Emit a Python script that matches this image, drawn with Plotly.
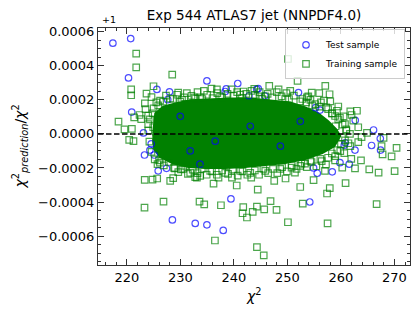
import plotly.graph_objects as go

# ---- data (y values are ratio - 1, in units of 1e-4) ----
test_chi2 = [217.38, 220.71, 220.30, 225.61, 227.96, 227.63, 220.90, 223.10, 224.54, 223.29,
             224.30, 225.85, 227.40, 228.50, 232.77, 234.95, 238.00, 239.44, 233.65, 254.17,
             254.88, 255.57, 258.37, 262.62, 265.72, 267.40, 261.55, 259.81, 260.62, 262.67,
             266.09, 267.35, 260.80, 234.95, 240.71, 238.37, 238.56, 242.81, 244.26, 244.54,
             245.76, 252.06, 255.25, 256.08, 225.10, 231.83, 236.50, 243.05, 248.67, 252.41,
             229.96]
test_dev_e4 = [5.33, 5.60, 3.29, 2.61, 2.47, 2.01, 1.28, 0.06, -0.58, -1.24,
               -0.95, -2.17, -2.02, -5.05, -5.26, -5.34, -5.67, -3.82, -1.78, -4.00,
               -2.00, -2.31, -2.23, -0.95, -0.68, -0.95, -1.78, -1.69, -0.66, 0.80,
               0.23, -0.27, -0.52, 3.11, 2.96, 2.49, 2.64, 2.24, 2.61, 2.66,
               2.24, 2.43, 1.54, 1.40, -1.24, -1.00, -0.43, 0.45, -0.72, 0.74,
               1.03]

train_chi2 = [221.74, 221.74, 228.47, 220.80, 220.80, 224.97, 223.66, 224.60, 229.59, 223.36,
              223.48, 221.36, 222.36, 222.67, 223.98, 218.43, 219.55, 220.93, 220.43, 221.23,
              223.98, 224.92, 223.33, 224.79, 225.66, 228.09, 228.65, 226.84, 223.29, 225.72,
              226.17, 228.97, 226.60, 227.85, 233.57, 234.45, 232.77, 233.70, 230.09, 233.08,
              236.19, 237.12, 239.63, 240.52, 243.23, 244.45, 237.57, 241.74, 241.61, 242.43,
              243.51, 244.30, 245.66, 246.84, 247.96, 250.09, 236.45, 244.30, 245.57, 252.39,
              252.86, 254.88, 257.40, 257.91, 257.50, 260.86, 266.66, 270.02, 267.03, 265.29,
              247.53, 249.64, 251.40, 250.77, 253.27, 257.01, 270.39, 269.46, 267.78, 267.59,
              262.62, 260.24, 263.74, 261.93, 250.09, 251.89, 257.07, 250.52, 254.54, 253.64,
              258.00, 256.26, 248.34, 246.60, 244.79, 243.80, 241.80, 236.82, 259.25, 261.74,
              262.99, 260.49, 264.86, 267.96, 261.98, 262.30, 260.75, 263.23, 261.68, 263.85,
              263.23, 260.75, 230.71, 232.07, 234.39, 235.81, 233.65, 239.55, 243.29, 253.89,
              255.94, 257.87, 226.79, 228.09, 225.85, 259.50, 259.87, 260.99, 258.94, 260.62,
              261.74, 258.37, 257.25, 259.50, 252.41, 254.28, 256.15, 248.65, 245.85, 243.05,
              241.18, 238.37, 235.57, 231.83, 230.90, 232.77, 237.44, 241.18, 245.85, 249.59,
              252.39, 254.62, 229.96,
              # upper edge of the dense cloud
              226.2, 227.3, 228.6, 229.4, 230.3, 231.2, 232.6, 233.2, 234.1, 235.0,
              236.0, 236.9, 237.8, 238.8, 239.9, 240.6, 241.5, 242.3, 243.9, 244.8,
              245.3, 246.3, 247.2, 248.0, 248.9, 249.8, 250.3, 251.2, 252.8, 253.5,
              254.3, 255.2, 256.0, 256.8, 257.6, 258.3, 258.9, 259.8, 260.3, 259.0,
              261.0, 260.2, 261.4, 260.0, 259.3, 258.3, 257.6, 258.9,
              # lower edge of the dense cloud
              226.0, 226.9, 227.8, 228.8, 229.6, 230.5, 231.4, 232.3, 233.2, 234.0,
              234.9, 235.9, 236.8, 237.8, 238.9, 239.8, 240.7, 241.6, 242.5, 243.9,
              244.7, 245.5, 246.4, 247.3, 248.1, 249.0, 249.9, 250.8, 251.7, 252.6,
              253.6, 254.5, 255.4, 256.4, 257.2,
              # left edge of the dense cloud
              225.0, 224.3, 224.0, 224.2, 224.6, 225.2, 225.5, 224.8]
train_dev_e4 = [4.72, 3.91, 3.48, 2.61, 2.27, 2.80, 2.36, 2.16, 2.43, 1.79,
                1.46, 0.97, 1.11, 0.87, 1.07, 0.72, 0.27, 0.29, -0.35, -0.43,
                0.58, 0.39, -2.70, -2.68, -2.62, -2.76, -2.60, -3.98, -4.33, -1.78,
                -1.69, -2.02, -1.20, -1.26, -3.98, -4.14, -2.54, -2.47, -2.08, -2.57,
                -2.92, -2.57, -2.57, -3.03, -2.57, -3.27, -4.19, -4.30, -4.66, -4.91,
                -4.58, -4.27, -4.43, -3.95, -4.46, -5.19, -6.26, -6.65, -7.13, -3.12,
                -4.09, -2.72, -3.50, -3.18, -5.25, -2.89, -4.12, -2.19, -2.27, -2.08,
                -2.76, -2.62, -2.27, -1.98, -1.75, -2.17, -0.82, -1.32, -1.20, -0.72,
                -2.02, -1.98, -1.55, -1.47, 4.40, 3.11, 2.82, 2.53, 2.43, 2.14,
                1.91, 1.85, 2.61, 2.82, 2.20, 2.65, 2.49, 2.61, 1.36, 1.32,
                1.36, 1.03, 0.06, -0.23, 1.11, 0.78, 0.58, 0.39, 0.00, -0.19,
                -0.48, -0.38, 2.14, 2.24, 2.53, 2.66, 2.14, 2.62, 2.53, 2.20,
                2.39, 2.33, 1.90, 2.08, 1.67, 0.85, -1.01, 0.27, -1.30, -1.13,
                -0.72, 1.20, 1.56, 1.61, -1.88, -1.59, -1.47, -2.06, -2.17, -2.29,
                -2.17, -2.29, -2.17, -2.29, -1.88, 2.08, 2.20, 2.31, 2.20, 2.08,
                1.91, 1.67, 1.90,
                1.95, 2.25, 2.05, 2.30, 2.00, 2.40, 2.15, 2.45, 2.05, 2.30,
                2.10, 2.40, 2.15, 2.35, 2.25, 2.45, 2.10, 2.35, 2.30, 2.45,
                2.05, 2.35, 2.15, 2.45, 2.20, 2.40, 2.05, 2.25, 2.05, 1.85,
                2.00, 1.75, 1.60, 1.95, 1.45, 1.20, 1.05, 0.95, 0.55, 0.45,
                0.20, -0.20, -0.55, -0.60, -0.95, -1.15, -1.40, -1.55,
                -1.55, -1.85, -1.65, -2.00, -2.25, -2.05, -2.35, -2.10, -2.30, -2.05,
                -2.40, -2.20, -2.40, -2.15, -2.35, -2.10, -2.45, -2.20, -2.40, -2.15,
                -2.40, -2.05, -2.30, -2.05, -2.30, -1.95, -2.20, -1.85, -2.05, -1.75,
                -1.95, -1.65, -1.90, -1.60, -1.80,
                1.50, 0.85, 0.20, -0.45, -1.05, -1.50, 1.85, 1.20]

# outline of the saturated (fully overlapped) training-sample core
core_chi2 = [224.9, 225.3, 226.79, 229.03, 231.83, 235.57, 239.31, 243.05, 246.79, 250.53,
             253.33, 255.76, 257.63, 259.12, 259.87, 258.75, 256.51, 253.33, 249.59, 245.85,
             242.11, 238.37, 234.64, 231.46, 228.47, 226.22, 225.1]
core_dev_e4 = [0.0, 1.2, 1.6, 1.79, 1.97, 2.02, 2.08, 2.08, 1.97, 1.85,
               1.56, 1.21, 0.74, 0.27, -0.13, -0.72, -1.13, -1.48, -1.71, -1.83,
               -1.94, -2.00, -2.00, -1.94, -1.71, -1.35, -0.9]

y_tick_vals = [-0.0006, -0.0004, -0.0002, 0.0, 0.0002, 0.0004, 0.0006]
y_tick_text = ["\u22120.0006", "\u22120.0004", "\u22120.0002", "0.0000", "0.0002", "0.0004", "0.0006"]
x_tick_vals = [220, 230, 240, 250, 260, 270]

E4 = 1e-4
FONT = "DejaVu Sans"

fig = go.Figure()

fig.add_trace(go.Scatter(
    x=core_chi2 + core_chi2[:1], y=[v * E4 for v in core_dev_e4 + core_dev_e4[:1]],
    mode="lines", fill="toself", fillcolor="#008000",
    line=dict(color="#008000", width=2), showlegend=False, hoverinfo="skip"))

fig.add_trace(go.Scatter(
    x=test_chi2, y=[v * E4 for v in test_dev_e4], mode="markers", name="Test sample",
    marker=dict(symbol="circle-open", size=6.5, color="rgba(0,0,255,0.7)",
                line=dict(width=1.2, color="rgba(0,0,255,0.7)"))))

fig.add_trace(go.Scatter(
    x=train_chi2, y=[v * E4 for v in train_dev_e4], mode="markers", name="Training sample",
    marker=dict(symbol="square-open", size=6.5, color="rgba(0,128,0,0.7)",
                line=dict(width=1.2, color="rgba(0,128,0,0.7)"))))

fig.add_shape(type="line", xref="paper", x0=0, x1=1, yref="y", y0=0, y1=0,
              line=dict(color="black", width=1.5, dash="5.5px,2.5px"))

axis_common = dict(showline=True, linecolor="#333", linewidth=1, mirror="allticks",
                   ticks="inside", ticklen=6, tickwidth=1, tickcolor="#333",
                   showgrid=False, zeroline=False,
                   tickfont=dict(family=FONT, size=13, color="black"))

fig.update_xaxes(range=[214.6, 272.9], tickvals=x_tick_vals,
                 minor=dict(ticks="inside", ticklen=3, dtick=2, tick0=220, tickcolor="#333", showgrid=False),
                 **axis_common)
fig.update_yaxes(range=[-0.00077, 0.000622], tickvals=y_tick_vals, ticktext=y_tick_text,
                 minor=dict(ticks="inside", ticklen=3, dtick=0.00005, tick0=0, tickcolor="#333", showgrid=False),
                 **axis_common)

# the page body has an 8px margin, so the figure is sized to sit inside the 420x315 window
W, H = 412, 307
L, R, T, B = 90, 10, 20, 50
fig.update_layout(
    width=W, height=H,
    margin=dict(l=L, r=R, t=T, b=B),
    paper_bgcolor="white", plot_bgcolor="white",
    font=dict(family=FONT, color="black"),
    title=dict(text="Exp 544 ATLAS7 jet (NNPDF4.0)", x=(L + (W - R)) / 2 / W, xanchor="center",
               y=1 - 7 / H, yanchor="middle", font=dict(family=FONT, size=13.5)),
    legend=dict(x=0.984, y=0.994, xanchor="right", yanchor="top",
                bgcolor="rgba(255,255,255,0.8)", bordercolor="#cccccc", borderwidth=1,
                font=dict(family=FONT, size=9), itemwidth=30, tracegroupgap=0),
    annotations=[
        dict(text="+1", xref="paper", yref="paper", x=0.006, y=1.0, xanchor="left", yanchor="bottom",
             yshift=1, showarrow=False, font=dict(family=FONT, size=9.5)),
        dict(text="<i>χ</i><sup>2</sup>", xref="paper", yref="paper", x=0.5, y=-0.127,
             xanchor="center", yanchor="middle", showarrow=False, font=dict(family=FONT, size=14)),
        dict(text="<i>χ</i><sup>2</sup><sub><i>prediction</i></sub>/<i>χ</i><sup>2</sup>",
             xref="paper", yref="paper", x=-0.25, y=0.5, xanchor="center", yanchor="middle",
             textangle=-90, showarrow=False, font=dict(family=FONT, size=14)),
    ],
)

fig.write_html("out.html")
